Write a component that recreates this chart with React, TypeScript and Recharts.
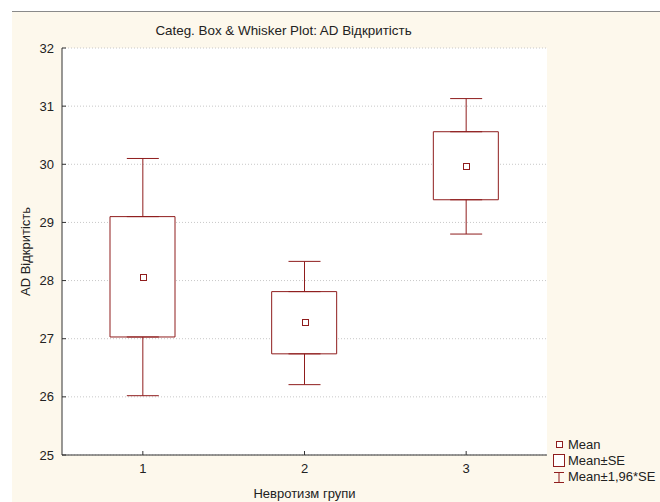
import { ComposedChart, Bar, Line, ErrorBar, XAxis, YAxis, CartesianGrid } from 'recharts';

const groups = ['1', '2', '3'];
const means = [28.06, 27.28, 29.97];
const seLow = [27.03, 26.74, 29.39];
const seHigh = [29.1, 27.81, 30.56];
const ciLow = [26.02, 26.21, 28.8];
const ciHigh = [30.1, 28.33, 31.13];
const yTicks = [25, 26, 27, 28, 29, 30, 31, 32];

const RED = '#8f1d1d';
const FONT = '"Liberation Sans", Arial, sans-serif';

const data = groups.map((g, i) => ({
  group: g,
  mean: means[i],
  box: [seLow[i], seHigh[i]],
  seLow: seLow[i],
  seHigh: seHigh[i],
  upErr: [0, ciHigh[i] - seHigh[i]],
  downErr: [seLow[i] - ciLow[i], 0],
}));

const MeanDot = (props: any) => {
  const { cx, cy } = props;
  if (cx == null || cy == null) return null;
  const x = Math.round(cx) - 3 + 0.5;
  const y = Math.round(cy) - 3 + 0.5;
  return <rect x={x} y={y} width={6} height={6} fill="#fff" stroke={RED} />;
};

const NoDot = () => null;

export default function App() {
  return (
    <div style={{ position: 'absolute', left: 0, top: 0, width: 660, height: 502, background: '#fff', fontFamily: FONT }}>
      <div style={{ position: 'absolute', left: 12, top: 11, right: 0, bottom: 0, background: '#fdf8ec', borderTop: '1px solid #8a8a8a' }} />
      <div style={{ position: 'absolute', left: 0, top: 23, width: 567, textAlign: 'center', fontSize: 13.4, lineHeight: '16px', color: '#222' }}>
        Categ. Box &amp; Whisker Plot: AD Відкритість
      </div>
      <div style={{ position: 'absolute', left: 0, top: 0 }}>
        <ComposedChart width={660} height={502} data={data} margin={{ top: 48, right: 113, left: 0, bottom: 0 }}>
          <CartesianGrid vertical={false} stroke="#c8c8c8" strokeDasharray="1 2" fill="#fff" fillOpacity={1} />
          <XAxis
            dataKey="group"
            height={47}
            axisLine={{ stroke: '#333' }}
            tickLine={{ stroke: '#333' }}
            tickSize={-4}
            tickMargin={13}
            tick={{ fill: '#222', fontSize: 13, fontFamily: FONT }}
            label={{ value: 'Невротизм групи', position: 'center', dy: 15, fill: '#222', fontSize: 13, fontFamily: FONT }}
          />
          <XAxis
            xAxisId="top"
            dataKey="group"
            orientation="top"
            height={0}
            tick={false}
            axisLine={{ stroke: '#888' }}
            tickLine={{ stroke: '#333' }}
            tickSize={-4}
          />
          <YAxis
            domain={[25, 32]}
            ticks={yTicks}
            width={62}
            allowDataOverflow
            axisLine={{ stroke: '#333' }}
            tickLine={{ stroke: '#333' }}
            tickSize={-4}
            tickMargin={12}
            tick={{ fill: '#222', fontSize: 13, fontFamily: FONT }}
            label={{ value: 'AD Відкритість', angle: -90, position: 'center', dx: -6, fill: '#222', fontSize: 13, fontFamily: FONT }}
          />
          <YAxis
            yAxisId="right"
            orientation="right"
            domain={[25, 32]}
            ticks={yTicks}
            width={0}
            allowDataOverflow
            tick={false}
            axisLine={{ stroke: '#888', strokeWidth: 1.5 }}
            tickLine={{ stroke: '#333' }}
            tickSize={-4}
          />
          <Bar dataKey="box" fill="#fff" stroke={RED} barSize={65} isAnimationActive={false} />
          <Line dataKey="seHigh" stroke="none" dot={<NoDot />} activeDot={false} isAnimationActive={false}>
            <ErrorBar dataKey="upErr" width={16} stroke={RED} strokeWidth={1} direction="y" />
          </Line>
          <Line dataKey="seLow" stroke="none" dot={<NoDot />} activeDot={false} isAnimationActive={false}>
            <ErrorBar dataKey="downErr" width={16} stroke={RED} strokeWidth={1} direction="y" />
          </Line>
          <Line dataKey="mean" stroke="none" dot={<MeanDot />} activeDot={false} isAnimationActive={false} />
        </ComposedChart>
      </div>
      <svg width={660} height={502} style={{ position: 'absolute', left: 0, top: 0, pointerEvents: 'none' }}>
        <rect x={556.5} y={441.5} width={6} height={6} fill="#fff" stroke={RED} />
        <rect x={553.5} y={454.5} width={11} height={12} fill="#fff" stroke={RED} />
        <line x1={559} y1={472.5} x2={559} y2={482.5} stroke={RED} />
        <line x1={554} y1={472.5} x2={564} y2={472.5} stroke={RED} />
        <line x1={554} y1={482.5} x2={564} y2={482.5} stroke={RED} />
      </svg>
      {['Mean', 'Mean±SE', 'Mean±1,96*SE'].map((t, i) => (
        <div key={t} style={{ position: 'absolute', left: 568, top: 437 + i * 16, fontSize: 13, lineHeight: '16px', color: '#222', whiteSpace: 'nowrap' }}>
          {t}
        </div>
      ))}
    </div>
  );
}
